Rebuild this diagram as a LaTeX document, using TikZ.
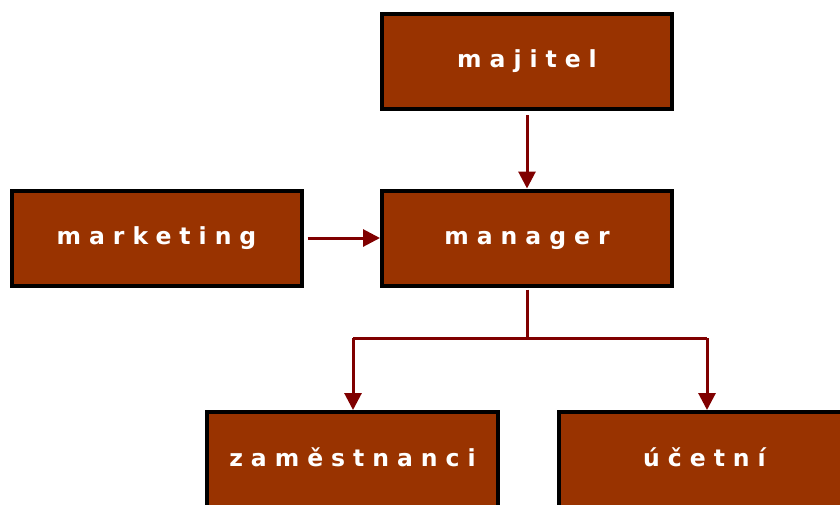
\documentclass[tikz,border=0pt]{standalone}
\usepackage{fontspec}
\setmainfont{DejaVu Sans}
\newfontfamily\boxfont[LetterSpace=34]{DejaVu Sans Bold}
\usetikzlibrary{arrows.meta}
\definecolor{boxfill}{HTML}{993300}
\definecolor{linkred}{HTML}{800000}
\tikzset{
  orgbox/.style={draw=black, line width=4pt, fill=boxfill, text=white,
    minimum width=290pt, minimum height=95pt, inner sep=0pt,
    text height=16pt, text depth=4pt,
    font=\boxfont\fontsize{23.5pt}{28pt}\selectfont},
  link/.style={draw=linkred, line width=3pt},
  linkarrow/.style={link, -{Triangle[length=17pt,width=17pt]}}
}
\begin{document}
\begin{tikzpicture}[x=1pt, y=-1pt]
  \useasboundingbox (0,0) rectangle (840,504);
  \clip (0,0) rectangle (840,504);
  % boxes
  \node[orgbox] (majitel) at (527,61.5) {majitel};
  \node[orgbox] (manager) at (527,238) {manager};
  \node[orgbox] (marketing) at (156.5,238) {marketing};
  \node[orgbox, minimum height=96pt, minimum width=291pt] (zam) at (352.5,460) {zaměstnanci};
  \node[orgbox, minimum height=96pt, minimum width=291pt] (ucet) at (704.5,460) {účetní};
  % branch points below the manager
  \coordinate (split) at (527,338);
  \coordinate (splitL) at (353,338);
  \coordinate (splitR) at (707,338);
  % connectors
  \draw[linkarrow, shorten <=4pt] (majitel.south) -- (manager.north);
  \draw[linkarrow, shorten <=4pt] (marketing.east) -- (manager.west);
  \draw[link, shorten <=2pt] (manager.south) -- (split);
  \draw[link] (splitL) -- (splitR);
  \draw[linkarrow] (splitL) -- (splitL |- zam.north);
  \draw[linkarrow] (splitR) -- (splitR |- ucet.north);
\end{tikzpicture}
\end{document}
